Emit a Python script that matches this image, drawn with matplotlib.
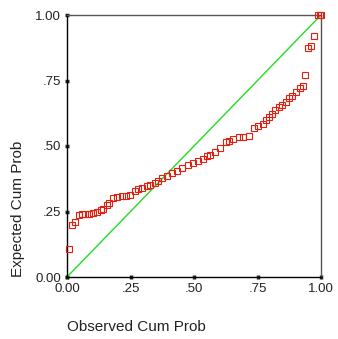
import matplotlib
matplotlib.use("Agg")
import matplotlib.pyplot as plt

observed = [0.008, 0.020, 0.031, 0.047, 0.059, 0.071, 0.087, 0.102, 0.118, 0.134,
            0.142, 0.157, 0.165, 0.181, 0.197, 0.217, 0.232, 0.248, 0.268, 0.280,
            0.295, 0.315, 0.327, 0.346, 0.358, 0.374, 0.394, 0.413, 0.433, 0.453,
            0.476, 0.496, 0.516, 0.535, 0.551, 0.563, 0.583, 0.602, 0.626, 0.638,
            0.654, 0.677, 0.693, 0.717, 0.736, 0.752, 0.772, 0.783, 0.795, 0.807,
            0.819, 0.835, 0.846, 0.862, 0.874, 0.886, 0.902, 0.917, 0.929, 0.937,
            0.949, 0.961, 0.972, 0.988, 0.996, 1.000]
expected = [0.107, 0.198, 0.210, 0.237, 0.240, 0.240, 0.240, 0.244, 0.248, 0.256,
            0.260, 0.275, 0.282, 0.302, 0.305, 0.309, 0.309, 0.313, 0.328, 0.336,
            0.340, 0.347, 0.351, 0.359, 0.366, 0.378, 0.385, 0.397, 0.405, 0.416,
            0.427, 0.435, 0.443, 0.450, 0.462, 0.466, 0.477, 0.492, 0.515, 0.519,
            0.527, 0.534, 0.534, 0.538, 0.569, 0.576, 0.584, 0.599, 0.611, 0.622,
            0.637, 0.649, 0.656, 0.668, 0.683, 0.691, 0.706, 0.721, 0.729, 0.771,
            0.874, 0.882, 0.920, 1.000, 1.000, 1.000]
ref_line = [0.0, 1.0]
ticks = [0.0, 0.25, 0.5, 0.75, 1.0]
tick_labels = ["0.00", ".25", ".50", ".75", "1.00"]

font = "Liberation Sans"
W, H = 338, 339
fig = plt.figure(figsize=(W / 100, H / 100), dpi=100)
L, R, T, B = 67, 321, 15, 277
ax = fig.add_axes([L / W, 1 - B / H, (R - L) / W, (B - T) / H])
ax.set_xlim(0, 1)
ax.set_ylim(0, 1)

ax.plot(ref_line, ref_line, color="#22dd22", lw=1.0, zorder=2)
ax.plot(observed, expected, linestyle="none", marker="s", markersize=4.4,
        markerfacecolor="none", markeredgecolor="#e02010", markeredgewidth=0.8,
        zorder=3, clip_on=False)

for s in ["left", "bottom"]:
    ax.spines[s].set_color("black")
    ax.spines[s].set_linewidth(1.0)
for s in ["top", "right"]:
    ax.spines[s].set_color("#555555")
    ax.spines[s].set_linewidth(1.0)

ax.set_xticks(ticks)
ax.set_yticks(ticks)
ax.set_xticklabels(tick_labels, fontfamily=font, fontsize=9.5, color="#222222")
ax.set_yticklabels(tick_labels, fontfamily=font, fontsize=9.5, color="#222222")
ax.tick_params(axis="both", length=2.5, width=2.5, direction="inout", color="#222222", pad=3)

fig.text(L / W, 1 - 327 / H, "Observed Cum Prob", ha="left", va="center",
         fontfamily=font, fontsize=11, color="#222222")
fig.text(18 / W, 1 - B / H, "Expected Cum Prob", ha="center", va="bottom",
         rotation=90, fontfamily=font, fontsize=11, color="#222222")

fig.savefig("out.png", dpi=100)
